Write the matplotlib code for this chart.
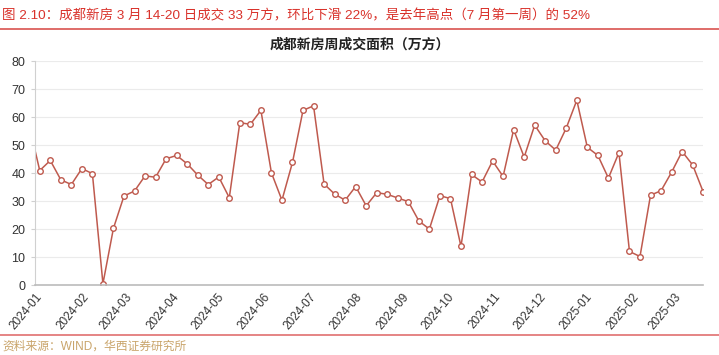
import matplotlib
matplotlib.use("Agg")
import matplotlib.pyplot as plt
import matplotlib.dates as mdates
import pandas as pd

# weekly transaction area, Chengdu new homes (10k m2); first value is before the visible range
weeks = pd.date_range("2023-12-28", periods=65, freq="7D")
area = [57.0,
        40.9, 44.5, 37.6, 35.9, 41.6, 39.8, 0.5, 20.3, 31.8, 33.6,
        39.0, 38.5, 45.1, 46.3, 43.3, 39.3, 35.9, 38.6, 31.2, 58.0,
        57.4, 62.4, 40.1, 30.3, 43.8, 62.4, 64.0, 36.1, 32.5, 30.3,
        35.2, 28.3, 33.0, 32.4, 31.1, 29.8, 22.9, 20.0, 31.9, 30.9,
        13.8, 39.5, 36.8, 44.3, 38.8, 55.5, 45.7, 57.1, 51.5, 48.2,
        56.1, 66.0, 49.2, 46.3, 38.2, 47.3, 12.0, 10.2, 32.1, 33.7,
        40.3, 47.7, 42.9, 33.3]

fig_title = "图 2.10：成都新房 3 月 14-20 日成交 33 万方，环比下滑 22%，是去年高点（7 月第一周）的 52%"
chart_title = "成都新房周成交面积（万方）"
source = "资料来源：WIND，华西证券研究所"

plt.rcParams['font.family'] = ['Liberation Sans', 'Noto Sans CJK SC', 'DejaVu Sans']

fig = plt.figure(figsize=(7.19, 3.55), dpi=100)
ax = fig.add_axes([0.049, 0.197, 0.929, 0.631])

line_color = "#BF5A4E"
ax.plot(weeks, area, color=line_color, lw=1.1, marker="o", ms=4,
        mfc="white", mec=line_color, mew=1.0, clip_on=True)

ax.set_xlim(pd.Timestamp("2024-01-01"), pd.Timestamp("2025-03-20"))
ax.set_ylim(0, 80)
ax.set_yticks(range(0, 81, 10))
ax.xaxis.set_major_locator(mdates.MonthLocator())
ax.xaxis.set_major_formatter(mdates.DateFormatter("%Y-%m"))
plt.setp(ax.get_xticklabels(), rotation=50, ha="right", rotation_mode="anchor")

ax.grid(axis="y", color="#EBEBEB", lw=0.8)
ax.set_axisbelow(True)
for s in ["top", "right"]:
    ax.spines[s].set_visible(False)
ax.spines["left"].set_color("#D0D0D0")
ax.spines["bottom"].set_color("#BBBBBB")
ax.spines["bottom"].set_linewidth(1.2)
ax.tick_params(axis="y", labelsize=9, colors="#333333", length=3, color="#D0D0D0", pad=4)
ax.tick_params(axis="x", labelsize=8.5, colors="#333333", length=0, pad=4)

fig.text(0.003, 0.975, fig_title, color="#D9322B", fontsize=9.7, va="top", ha="left")
fig.add_artist(plt.Line2D([0, 1], [0.918, 0.918], color="#D9534F", lw=1.2,
                          transform=fig.transFigure))
fig.text(0.5, 0.875, chart_title, color="#222222", fontsize=10, fontweight="bold",
         ha="center", va="center")
fig.add_artist(plt.Line2D([0, 1], [0.056, 0.056], color="#E07070", lw=1.2,
                          transform=fig.transFigure))
fig.text(0.003, 0.006, source, color="#C9A46A", fontsize=8.5, ha="left", va="bottom")

fig.savefig("out.png", dpi=100)
